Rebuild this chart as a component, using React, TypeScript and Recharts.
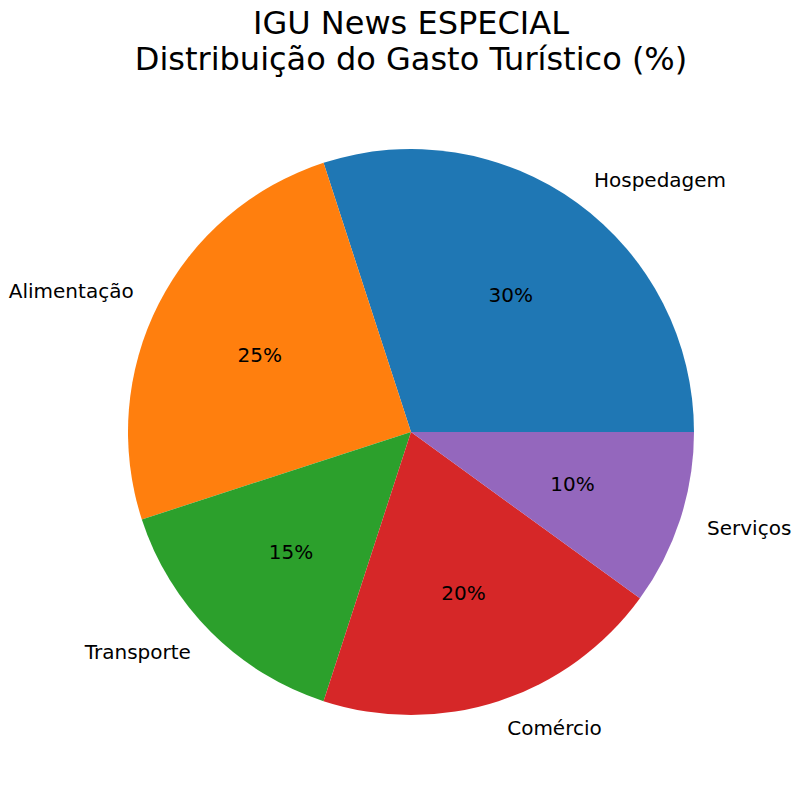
import React from "react";
import { PieChart, Pie, Cell } from "recharts";

const categories = ["Hospedagem", "Alimentação", "Transporte", "Comércio", "Serviços"];
const shares = [30, 25, 15, 20, 10];
const colors = ["#1f77b4", "#ff7f0e", "#2ca02c", "#d62728", "#9467bd"];
const titleLines = ["IGU News ESPECIAL", "Distribuição do Gasto Turístico (%)"];

const data = categories.map((name, i) => ({ name, value: shares[i] }));

const FONT = "'DejaVu Sans', sans-serif";
const RAD = Math.PI / 180;

// matplotlib-style labels: name at 1.1·r, percent at 0.6·r
function renderLabel(props: any) {
  const { cx, cy, midAngle, outerRadius, percent, name } = props;
  const cos = Math.cos(-midAngle * RAD);
  const sin = Math.sin(-midAngle * RAD);
  const lx = cx + outerRadius * 1.1 * cos;
  const ly = cy + outerRadius * 1.1 * sin;
  const px = cx + outerRadius * 0.6 * cos;
  const py = cy + outerRadius * 0.6 * sin;
  return (
    <g>
      <text
        x={lx}
        y={ly}
        textAnchor={cos >= 0 ? "start" : "end"}
        dominantBaseline="central"
        fontFamily={FONT}
        fontSize={20}
        fill="#000"
      >
        {name}
      </text>
      <text
        x={px}
        y={py}
        textAnchor="middle"
        dominantBaseline="central"
        fontFamily={FONT}
        fontSize={20}
        fill="#000"
      >
        {`${Math.round(percent * 100)}%`}
      </text>
    </g>
  );
}

export default function App() {
  return (
    <div style={{ position: "relative", width: 800, height: 796, margin: -8, background: "#fff" }}>
      <div style={{ position: "absolute", left: 0, top: 0 }}>
        <PieChart width={800} height={796} margin={{ top: 0, right: 0, bottom: 0, left: 0 }}>
          <Pie
            data={data}
            dataKey="value"
            nameKey="name"
            cx={411}
            cy={432}
            outerRadius={283}
            startAngle={0}
            endAngle={360}
            stroke="none"
            label={renderLabel}
            labelLine={false}
            isAnimationActive={false}
          >
            {data.map((d, i) => (
              <Cell key={d.name} fill={colors[i]} />
            ))}
          </Pie>
        </PieChart>
      </div>
      <svg width={800} height={100} style={{ position: "absolute", left: 0, top: 0 }}>
        {titleLines.map((t, i) => (
          <text
            key={t}
            x={411}
            y={33.5 + i * 36}
            textAnchor="middle"
            fontFamily={FONT}
            fontSize={32}
            fill="#000"
          >
            {t}
          </text>
        ))}
      </svg>
    </div>
  );
}
